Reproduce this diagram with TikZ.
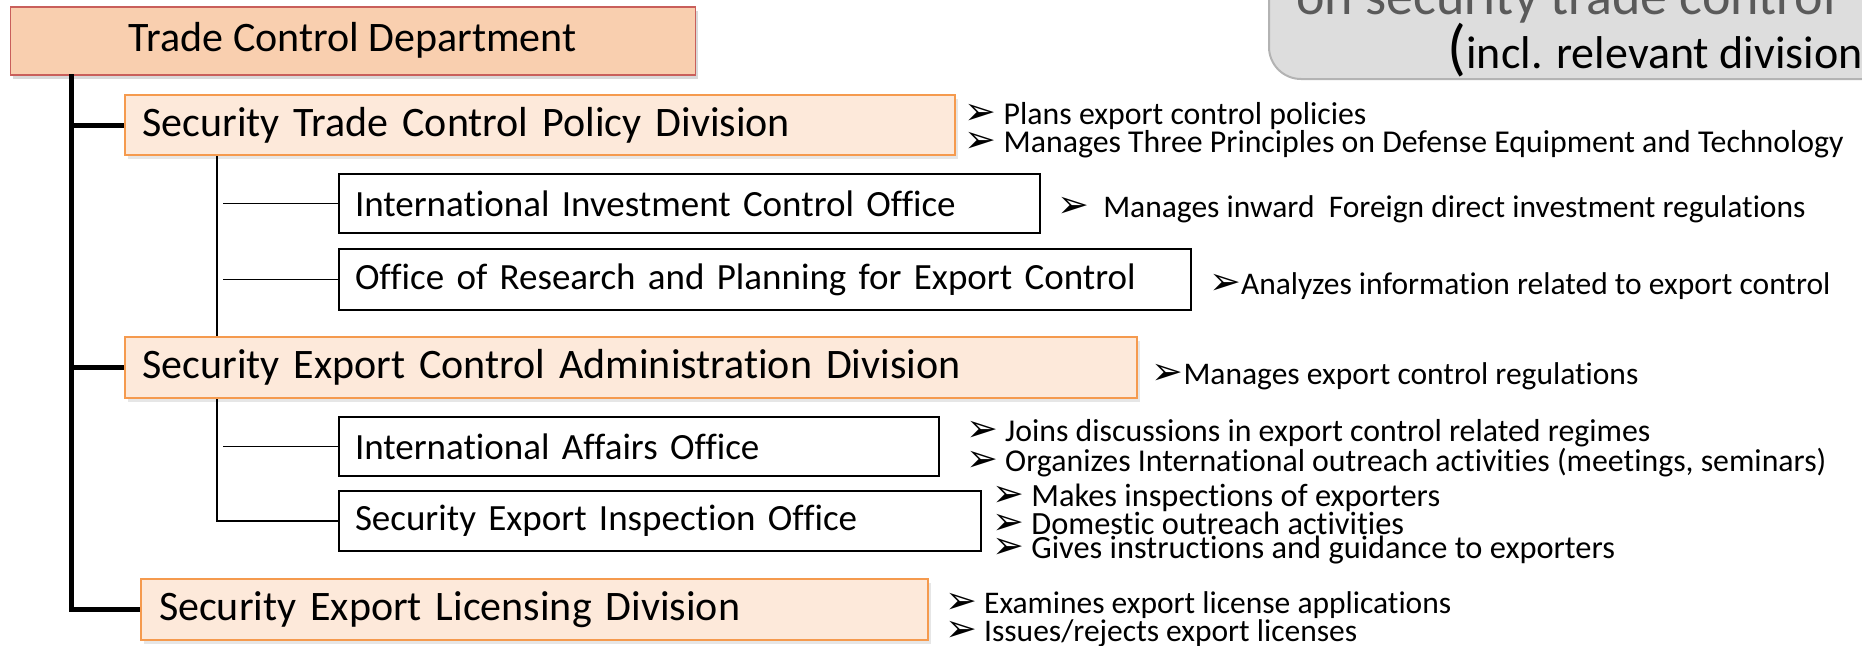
\documentclass[tikz,border=0pt]{standalone}
\usepackage{fontspec}
\setmainfont[Ligatures=NoCommon]{Carlito}
\newfontfamily\arrowfont{DejaVu Sans}
\usetikzlibrary{positioning,shadows}

\definecolor{deptfill}{HTML}{F9CFAF}
\definecolor{deptline}{HTML}{C95F5B}
\definecolor{divfill}{HTML}{FDE9DA}
\definecolor{divline}{HTML}{F59A4E}
\definecolor{scopefill}{HTML}{DDDDDD}
\definecolor{scopeline}{HTML}{B3B3B3}
\definecolor{scopetext}{HTML}{5A5A5A}

\newcommand{\bul}{{\arrowfont\fontsize{38}{24}\selectfont ➢}}
\newcommand{\dutysize}[2]{\fontsize{#1}{#2}\selectfont}

\tikzstyle{dept} = [rectangle, draw=deptline, fill=deptfill, line width=1.5pt,
    anchor=north west, inner sep=0pt, font=\fontsize{42}{50}\selectfont,
    drop shadow={opacity=0.3, shadow xshift=3pt, shadow yshift=-4pt}]
\tikzstyle{division} = [rectangle, draw=divline, fill=divfill, line width=2pt,
    anchor=north west, inner xsep=18pt, inner ysep=2pt, align=left,
    font=\fontsize{42}{50}\selectfont,
    drop shadow={opacity=0.2, shadow xshift=3pt, shadow yshift=-4pt}]
\tikzstyle{office} = [rectangle, draw, fill=white, line width=2pt,
    anchor=north west, inner xsep=16pt, inner ysep=2pt, align=left,
    font=\fontsize{37}{44}\selectfont]
\tikzstyle{duty} = [anchor=west, align=left, inner sep=0pt, font=\dutysize{31.5}{25}]
\tikzstyle{trunk} = [draw, line width=5pt]
\tikzstyle{twig} = [draw, line width=1.5pt]
\tikzstyle{scope} = [rectangle, draw=scopeline, fill=scopefill, line width=2pt,
    rounded corners=32pt, anchor=south west, minimum width=700pt,
    minimum height=200pt]

\begin{document}
\begin{tikzpicture}[x=1pt, y=-1pt]
\useasboundingbox (0,0) rectangle (1862,645);
\clip (0,0) rectangle (1862,645);

% scope of the chart, top right
\node [scope] (scopebox) at (1268,80) {};
\node [anchor=base, text=scopetext, font=\fontsize{54}{60}\selectfont] (scopetop) at (1566,14) {on security trade control};
\node [anchor=base west, font=\fontsize{46}{50}\selectfont] (scopesub) at (1444,68) {{\fontsize{62}{60}\selectfont(}incl. relevant divisions)};

% boxes
\node [dept, minimum width=685pt, minimum height=68pt] (dept) at (9.5,6) {\raisebox{-3pt}{Trade Control Department}};
\node [division, text width=794pt, minimum height=60pt] (policy) at (123.5,94) {Security Trade Control Policy Division};
\node [office, text width=669pt, minimum height=59pt] (invest) at (338,173) {International Investment Control Office};
\node [office, text width=820pt, minimum height=61pt] (research) at (338,248) {Office of Research and Planning for Export Control};
\node [division, text width=976pt, minimum height=61pt] (admin) at (123.5,336) {Security Export Control Administration Division};
\node [office, text width=568pt, minimum height=59pt] (affairs) at (338,416) {International Affairs Office};
\node [office, text width=610pt, minimum height=60pt] (inspect) at (338,490) {Security Export Inspection Office};
\node [division, text width=751pt, minimum height=61pt] (licensing) at (140,578) {Security Export Licensing Division};

% duties
\node [duty, font=\dutysize{31.8}{26}, right=9pt of policy, yshift=-5pt] (policynote) {\bul\ Plans export control policies\\\bul\ Manages Three Principles on Defense Equipment and Technology};
\node [duty, right=16pt of invest, yshift=-6pt] (investnote) {\bul\ \ Manages inward\ \ Foreign direct investment regulations};
\node [duty, right=17pt of research, yshift=-7pt] (researchnote) {\bul Analyzes information related to export control};
\node [duty, right=14pt of admin, yshift=-9pt] (adminnote) {\bul Manages export control regulations};
\node [duty, font=\dutysize{31.8}{25}, right=26pt of affairs, yshift=-2pt] (affairsnote) {\bul\ Joins discussions in export control related regimes\\\bul\ Organizes International outreach activities (meetings, seminars)};
\node [duty, font=\dutysize{32.4}{24}, right=10pt of inspect, yshift=-3pt] (inspectnote) {\bul\ Makes inspections of exporters\\\bul\ Domestic outreach activities\\\bul\ Gives instructions and guidance to exporters};
\node [duty, right=16pt of licensing, yshift=-10pt] (licensingnote) {\bul\ Examines export license applications\\\bul\ Issues/rejects export licenses};

% tree lines
\coordinate (root) at (71,74);
\coordinate (spine) at (217,0);
\path [trunk] (root) |- (licensing.west);
\path [trunk] (policy.west) -- (policy.west -| root);
\path [trunk] (admin.west) -- (admin.west -| root);
\path [twig] (policy.south -| spine) -- (admin.north -| spine);
\path [twig] ([xshift=6pt]invest.west -| spine) -- (invest.west);
\path [twig] ([xshift=6pt]research.west -| spine) -- (research.west);
\path [twig] (admin.south -| spine) |- (inspect.west);
\path [twig] ([xshift=6pt]affairs.west -| spine) -- (affairs.west);
\end{tikzpicture}
\end{document}
